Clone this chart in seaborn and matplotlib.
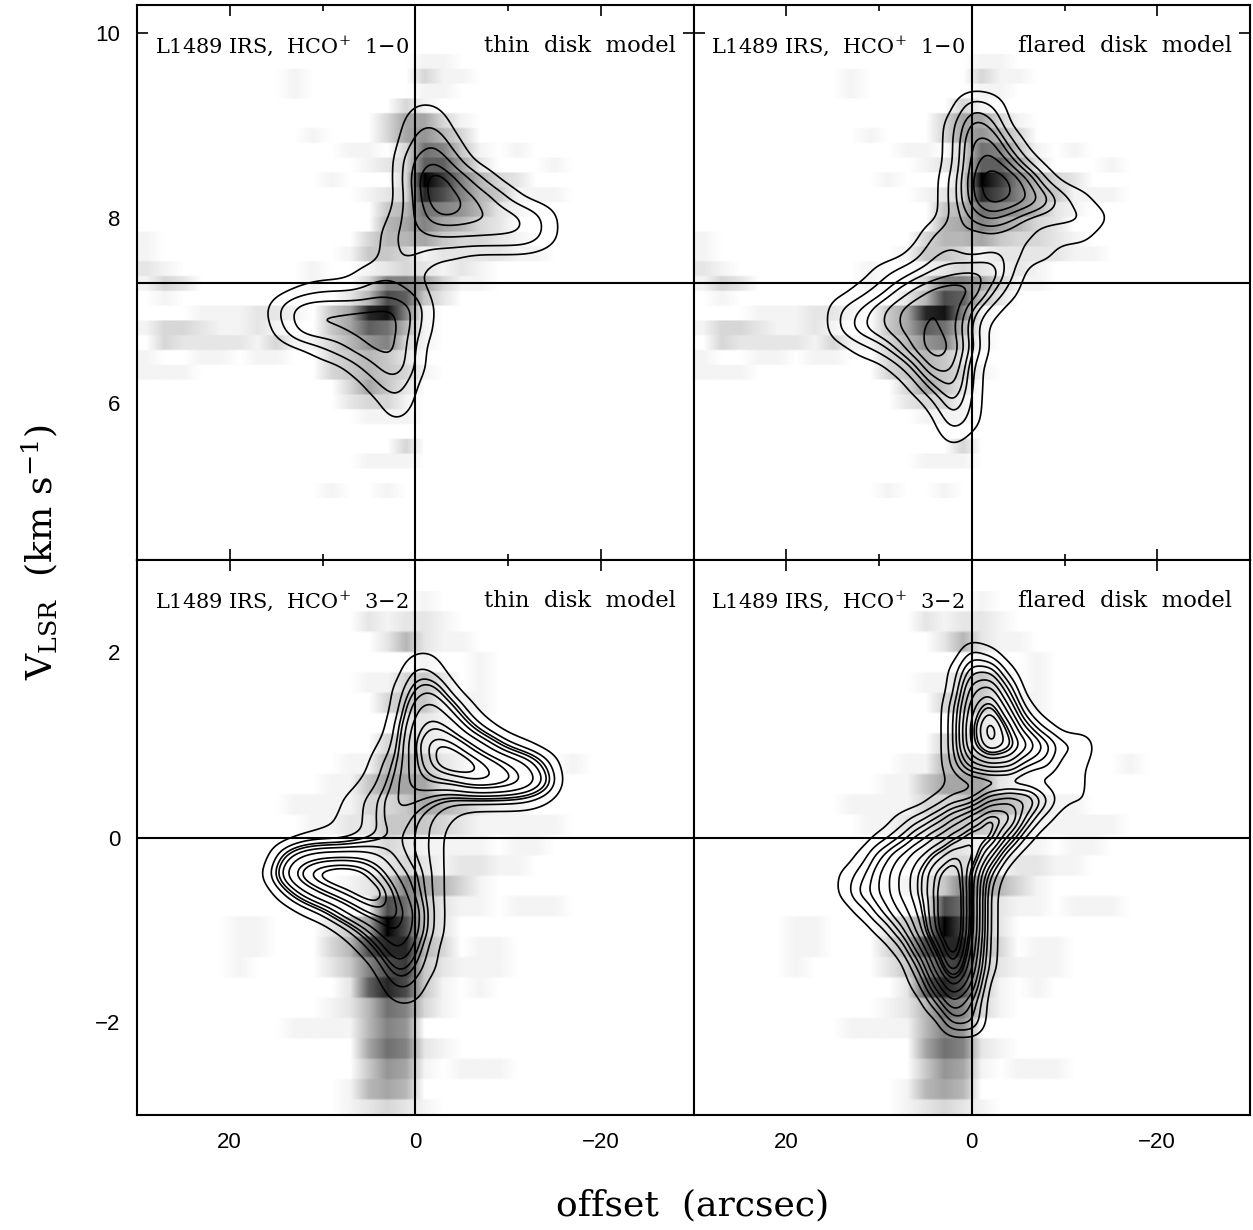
import numpy as np
import pandas as pd
import seaborn as sns
import matplotlib
matplotlib.use("Agg")
import matplotlib.pyplot as plt
from matplotlib.colors import PowerNorm
from matplotlib.ticker import MultipleLocator

# grey image, hex darkness per 2 arcsec column (30 -> -30), rows from the top
rows_10 = [
    "00000 00000 00000 11", "00000 00010 00000 311", "00000 00010 00000 11",
    "00000 00000 00003 1", "00000 00000 00036 631", "00000 00001 00036 753",
    "00000 00000 01103 98410 1", "00000 00000 00123 aa620 001", "00000 00000 10003 fc853 2",
    "00000 00000 00123 db854 111", "00000 00000 00045 98752 1", "00000 00000 00056 86532",
    "10000 00000 00355 64332 1", "10000 00000 01443 12222 11", "21000 00001 00123 21210",
    "13200 00001 00388 63110", "01000 00000 025ba 42", "00011 12210 46de8 1",
    "13321 12100 46a95 1", "03222 21311 35783 1", "10011 01100 34542",
    "11100 00000 34543 1", "00000 00000 03642", "00000 00000 02331",
    "00000 00000 00111", "", "00000 00000 00003", "00000 00000 00111", "",
    "00000 00000 10010",
]
rows_32 = [
    "00000 00000 00000 1", "00000 00000 00212 21", "00000 00000 00025 211",
    "00000 00000 00000 10010", "00000 00000 00113 42010", "00000 00000 00034 41110",
    "00000 00000 00002 21", "00000 00000 00033 21", "00000 00000 01155 42100 0001",
    "00000 00000 11466 621", "00000 00011 11334 65421 1", "00000 00001 12244 43211 111",
    "00000 00000 00132 11110 11", "00000 00000 00123 21221 1", "00000 00000 01248 65310",
    "00000 00000 001b9 42110 111", "00000 11000 246fb 42", "00000 11000 35bdd 53011",
    "00000 10000 248bc 42111", "00000 00000 02adb 41010", "00000 00000 12598 31",
    "00000 00011 11587", "00000 00000 00698 21", "00000 00000 00476 10111",
    "00000 00000 01565", "00000 00000 01232 1",
]

# model intensity in hex, columns at offsets 16, 14 ... -16 arcsec
model_offsets = [16, 14, 12, 10, 8, 6, 4, 2, 0, -2, -4, -6, -8, -10, -12, -14, -16]
vel_10 = [9.2, 9.0, 8.8, 8.6, 8.4, 8.2, 8.0, 7.8, 7.6, 7.4, 7.2, 7.0, 6.8, 6.6, 6.4, 6.2, 6.0, 5.8, 5.6]
vel_32 = [2.0, 1.8, 1.6, 1.4, 1.2, 1.0, 0.8, 0.6, 0.4, 0.2, 0.0, -0.2, -0.4, -0.6, -0.8, -1.0, -1.2, -1.4, -1.6, -1.8, -2.0]

thin_10 = [
    "00000 00011", "00000 00023", "00000 00036 1", "00000 00069 4", "00000 0006e 95100",
    "00000 0005d b9620", "00000 0015a a9875 20", "00000 00345 55555 20", "00000 00331 1",
    "00000 12210", "00122 24320", "04888 88940", "02888 99930", "00024 79910",
    "00000 25910", "00000 02500", "00000 00300", "00000 0010", "",
]
flared_10 = [
    "00000 00032", "00000 00154", "00000 00167 2", "00000 00169 51", "00000 0026e a61",
    "00000 0026c a8521", "00000 00246 42222 1", "00000 02322 22111", "00000 13323 311",
    "00012 34566 2", "00124 68983 1", "02357 9a931", "02457 9a82", "00124 8d93",
    "00001 39810", "00000 14710", "00000 01510", "00000 0031", "00000 0010",
]
thin_32 = [
    "00000 00011", "00000 00032", "00000 00145 1", "00000 00167 41", "00000 00279 731",
    "00000 0128c b8521", "00000 0237b eca86 30", "00000 12478 8bba8 50", "00001 23553 22222 1",
    "00011 23532 1", "00111 23432", "04677 76432", "16bde d9542", "0258a ce742",
    "00125 8aa52", "00001 36952", "00000 13741", "00000 01531", "00000 0032", "00000 0011", "",
]
flared_32 = [
    "00000 00021", "00000 00144 1", "00000 00167 3", "00000 0027a 51", "00000 0028d 831",
    "00000 0028c a7422", "00000 00256 63311", "00000 00111 11111", "00000 01225 66311",
    "00001 2357a 931", "00012 468aa 41", "00135 79bb5 1", "01246 8be82", "01346 8bf81",
    "00135 7bf81", "00013 6bf81", "00001 48e71", "00000 26c61", "00000 1485", "00000 0253", "00000 0033",
]

# contour thresholds on the same hex scale
thin_10_cuts = [1.2, 3.5, 6, 8.5, 11]
flared_10_cuts = [0.5, 1.5, 3, 4.5, 6, 8, 10.5]
thin_32_cuts = [1, 2, 3, 4, 5, 6.5, 8, 9.5, 11, 12.5]
flared_32_cuts = [0.5, 1.5, 2.5, 3.5, 4.5, 5.5, 6.5, 7.5, 8.5, 9.5, 10.5, 12, 13.5]

titles = ["L1489 IRS,  HCO$^{+}$  1$-$0", "L1489 IRS,  HCO$^{+}$  3$-$2"]
models = ["thin  disk  model", "flared  disk  model"]


def hex_grid(rows, width):
    return np.array([[int(c, 16) for c in r.replace(" ", "").ljust(width, "0")] for r in rows], dtype=float)


def model_table(rows, vels):
    # one weighted point per non-empty cell, plus two off-panel points that
    # make the scipy kernel axis-aligned and about 1.2" x 0.12 km/s
    z = hex_grid(rows, len(model_offsets))
    xx, vv = np.meshgrid(model_offsets, vels)
    keep = z > 0
    x, v, w = xx[keep], vv[keep], z[keep]
    c = np.cov(x, v, aweights=w)
    f = 0.04
    X = 40.0
    V = -(1 - f) * c[0, 1] / (f * X)
    wa = w.sum() * f / (1 - f) / 2
    xm, vm = np.average(x, weights=w), np.average(v, weights=w)
    x = np.r_[x, xm - X, xm + X]
    v = np.r_[v, vm - V, vm + V]
    w = np.r_[w, wa, wa]
    return pd.DataFrame({"off": x, "vel": v, "wt": w})


def cut_levels(cells, cuts):
    # share of the total weight lying below each threshold
    steps = np.unique(cells)
    below = np.array([cells[cells <= s].sum() for s in steps]) / cells.sum()
    return list(np.interp(cuts, np.r_[0, steps], np.r_[0, below]))


sns.set_style("ticks")
plt.rcParams["mathtext.fontset"] = "dejavuserif"
plt.rcParams["font.family"] = ["Liberation Sans", "DejaVu Sans"]
plt.rcParams["text.color"] = "k"
plt.rcParams["axes.edgecolor"] = "k"
plt.rcParams["xtick.color"] = "k"
plt.rcParams["ytick.color"] = "k"

fig, axes = plt.subplots(2, 2, figsize=(12.53, 12.30), dpi=100)
fig.subplots_adjust(left=137 / 1253, right=1250 / 1253, top=1 - 5 / 1230, bottom=1 - 1115 / 1230, wspace=0, hspace=0)

panels = [
    (axes[0, 0], rows_10, 9.77, 0.16, 7.3, (4.3, 10.3), thin_10, vel_10, thin_10_cuts, 0, 0),
    (axes[0, 1], rows_10, 9.77, 0.16, 7.3, (4.3, 10.3), flared_10, vel_10, flared_10_cuts, 0, 1),
    (axes[1, 0], rows_32, 2.656, 0.2195, 0.0, (-3, 3), thin_32, vel_32, thin_32_cuts, 1, 0),
    (axes[1, 1], rows_32, 2.656, 0.2195, 0.0, (-3, 3), flared_32, vel_32, flared_32_cuts, 1, 1),
]

for ax, rows, v_top, v_step, v_sys, ylim, model, vels, cuts, i, j in panels:
    img = np.repeat(hex_grid(rows, 30), 8, axis=0)
    ax.imshow(img, cmap="gray_r", norm=PowerNorm(1.15, vmin=0, vmax=15), aspect="auto", interpolation="bilinear",
              extent=(30, -30, v_top - v_step * len(rows), v_top), zorder=1)
    df = model_table(model, vels)
    levels = cut_levels(df["wt"].to_numpy()[:-2], cuts)
    factor = 0.12 / np.sqrt(np.cov(df["off"], df["vel"], aweights=df["wt"])[1, 1])
    sns.kdeplot(data=df, x="off", y="vel", weights="wt", levels=levels, bw_method=factor, gridsize=300,
                clip=((-30, 30), ylim), colors="k", linewidths=1.2, ax=ax, zorder=3)
    ax.axvline(0, color="k", lw=1.5, zorder=4)
    ax.axhline(v_sys, color="k", lw=1.5, zorder=4)
    ax.set_xlim(30, -30)
    ax.set_ylim(*ylim)
    ax.set_xlabel("")
    ax.set_ylabel("")
    ax.xaxis.set_major_locator(MultipleLocator(20))
    ax.xaxis.set_minor_locator(MultipleLocator(10))
    ax.yaxis.set_major_locator(MultipleLocator(2))
    ax.yaxis.set_minor_locator(MultipleLocator(1))
    ax.tick_params(which="major", direction="in", length=8, width=1.2, top=True, right=True,
                   labelbottom=(i == 1), labelleft=(j == 0), labelsize=16, pad=12)
    ax.tick_params(which="minor", direction="in", length=4, width=1.2, top=True, right=True)
    for s in ax.spines.values():
        s.set_linewidth(1.5)
        s.set_zorder(5)
    ax.text(0.032, 0.915, titles[i], transform=ax.transAxes, family="DejaVu Serif", fontsize=15, zorder=6)
    ax.text(0.968, 0.915, models[j], transform=ax.transAxes, family="DejaVu Serif", fontsize=16.3, ha="right", zorder=6)

fig.text(693 / 1253, 1 - 1205 / 1230, "offset  (arcsec)", family="DejaVu Serif", fontsize=26, ha="center", va="center")
fig.text(40 / 1253, 1 - 552 / 1230, r"V$_{\rm LSR}$  (km s$^{-1}$)", family="DejaVu Serif", fontsize=26,
         rotation=90, ha="center", va="center")

fig.savefig("out.png", dpi=100)
